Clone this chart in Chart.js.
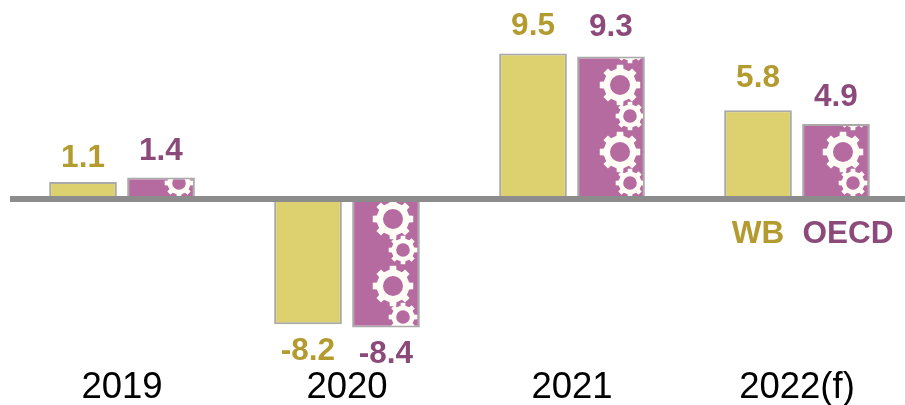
<!DOCTYPE html>
<html>
<head>
<meta charset="utf-8">
<style>html,body{margin:0;padding:0;background:#fff;overflow:hidden;width:905px;height:405px}canvas{display:block}</style>
<script src="https://cdn.jsdelivr.net/npm/chart.js@4"></script>
</head>
<body>
<canvas id="c" width="920" height="405"></canvas>
<script>
const categories = ["2019", "2020", "2021", "2022(f)"];
const wbValues = [1.1, -8.2, 9.5, 5.8];
const oecdValues = [1.4, -8.4, 9.3, 4.9];
const wbLabels = ["1.1", "-8.2", "9.5", "5.8"];
const oecdLabels = ["1.4", "-8.4", "9.3", "4.9"];
const seriesNames = ["WB", "OECD"];
const wbLift = [26, -25, 29, 34];
const oecdLift = [28, -25, 31, 29];
const gearShift = [127, 351, 578, 801];

const GOLD = "#B39B2F", PLUM = "#8C4A7A", CREAM = "#FFFDF5";

function gearPath(g, cx, cy, ro, ri, hole, teeth) {
  const step = Math.PI * 2 / teeth;
  for (let i = 0; i < teeth; i++) {
    const a = i * step - Math.PI / 2;
    const pts = [[ri, -0.27], [ro, -0.2], [ro, 0.2], [ri, 0.27]];
    pts.forEach(([r, f], k) => {
      const t = a + f * step;
      const x = cx + r * Math.cos(t), y = cy + r * Math.sin(t);
      (i === 0 && k === 0) ? g.moveTo(x, y) : g.lineTo(x, y);
    });
  }
  g.closePath();
  g.moveTo(cx + hole, cy);
  g.arc(cx, cy, hole, 0, Math.PI * 2, true);
}
function makeTile() {
  const t = document.createElement("canvas");
  t.width = 225; t.height = 67;
  const g = t.getContext("2d");
  g.fillStyle = "#B56AA0";
  g.fillRect(0, 0, 225, 67);
  g.fillStyle = CREAM;
  [-67, 0, 67].forEach(dy => {
    g.beginPath();
    gearPath(g, 42, 18 + dy, 20.5, 16.5, 10, 8);
    g.fill("evenodd");
    g.beginPath();
    gearPath(g, 52, 49 + dy, 14.5, 11.5, 6.8, 8);
    g.fill("evenodd");
  });
  return t;
}
const tile = makeTile();
const ctx2d = document.getElementById("c").getContext("2d");
const gearFills = gearShift.map(dx => {
  const p = ctx2d.createPattern(tile, "repeat");
  p.setTransform(new DOMMatrix().translate(dx, 0));
  return p;
});

const valueText = {
  id: "valueText",
  afterDraw(chart) {
    const g = chart.ctx;
    g.save();
    g.font = "bold 31.5px 'Liberation Sans'";
    g.textAlign = "center";
    g.textBaseline = "middle";
    const sets = [[wbLabels, wbLift, GOLD], [oecdLabels, oecdLift, PLUM]];
    sets.forEach(([labels, lift, color], d) => {
      const meta = chart.getDatasetMeta(d);
      g.fillStyle = color;
      labels.forEach((txt, i) => {
        g.fillText(txt, meta.data[i].x, meta.data[i].y - lift[i] + 2);
      });
    });
    const zero = chart.scales.y.getPixelForValue(0);
    g.fillStyle = GOLD;
    g.fillText(seriesNames[0], chart.getDatasetMeta(0).data[3].x, zero + 35);
    g.fillStyle = PLUM;
    g.fillText(seriesNames[1], chart.getDatasetMeta(1).data[3].x + 12, zero + 35);
    g.restore();
  }
};

new Chart(ctx2d, {
  type: "bar",
  data: {
    labels: categories,
    datasets: [
      { label: seriesNames[0], data: wbValues, backgroundColor: "#DDD06E", borderColor: "#A9A9A9", borderWidth: 2, borderSkipped: "start" },
      { label: seriesNames[1], data: oecdValues, backgroundColor: gearFills, borderColor: "#A9A9A9", borderWidth: 2, borderSkipped: "start" }
    ]
  },
  options: {
    responsive: false,
    animation: false,
    layout: { padding: { left: 9.5, right: 10.5, top: 0, bottom: 0 } },
    plugins: { legend: { display: false }, tooltip: { enabled: false } },
    datasets: { bar: { categoryPercentage: 0.6933, barPercentage: 0.868 } },
    scales: {
      x: {
        grid: { display: false },
        border: { display: false },
        ticks: { color: "#000", font: { family: "'Liberation Sans'", size: 36.5 }, padding: -9, maxRotation: 0, autoSkip: false },
        afterFit(s) { s.height = 37.8; }
      },
      y: {
        min: -11, max: 13,
        afterFit(s) { s.width = 0; },
        afterBuildTicks(s) { s.ticks = [{ value: 0 }]; },
        ticks: { display: false },
        border: { display: false },
        grid: { color: "#8C8C8C", lineWidth: 6, drawTicks: false, z: 1 }
      }
    }
  },
  plugins: [valueText]
});
</script>
</body>
</html>
